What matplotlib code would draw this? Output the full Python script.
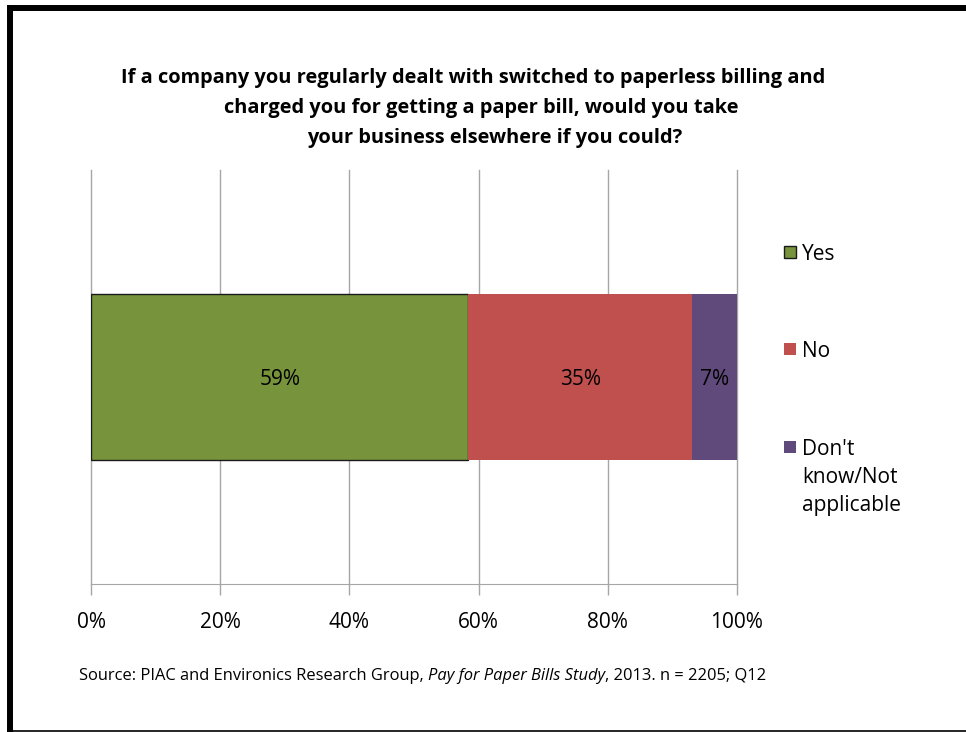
"""
Stacked 100% bar: would customers leave a company that charged for paper bills.
"""

import matplotlib.pyplot as plt
from matplotlib.lines import Line2D
from matplotlib.patches import Rectangle
from matplotlib.ticker import FuncFormatter

plt.rcParams['font.family'] = ['Open Sans', 'DejaVu Sans']

# Survey answers (percent of respondents)
categories = ["Yes", "No", "Don't\nknow/Not\napplicable"]
shares = [59, 35, 7]
colors = ['#77933C', '#C0504D', '#604A7B']
edges = ['#1a1a1a', 'none', 'none']

title_lines = [
    "If a company you regularly dealt with switched to paperless billing and",
    "charged you for getting a paper bill, would you take",
    "your business elsewhere if you could?",
]
source_parts = [
    ("Source: PIAC and Environics Research Group, ", 'normal'),
    ("Pay for Paper Bills Study", 'italic'),
    (", 2013. n = 2205; Q12", 'normal'),
]
xticks = [0, 20, 40, 60, 80, 100]

W, H = 966, 732
fig = plt.figure(figsize=(W / 100, H / 100), dpi=100)
ax = fig.add_axes([91 / W, 1 - 584 / H, 646 / W, 414 / H])

# Excel-style 100% stacking: normalise by the total of the rounded labels
total = sum(shares)
left = 0.0
for cat, val, col, ec in zip(categories, shares, colors, edges):
    width = val / total * 100
    ax.barh(0, width, left=left, height=0.4, color=col, edgecolor=ec,
            linewidth=1.0, zorder=3)
    ax.text(left + width / 2, -0.005, f"{val}%", ha='center', va='center',
            fontsize=15, color='black', zorder=4)
    left += width

ax.set_xlim(0, 100)
ax.set_ylim(-0.5, 0.5)
ax.set_xticks(xticks)
ax.xaxis.set_major_formatter(FuncFormatter(lambda v, _: f"{v:.0f}%"))
ax.set_yticks([])
ax.grid(axis='x', color='#A6A6A6', linewidth=1.0, zorder=0)
for gl in ax.get_xgridlines():
    gl.set_clip_on(False)
for side in ['top', 'right', 'left']:
    ax.spines[side].set_visible(False)
ax.spines['bottom'].set_color('#A6A6A6')
ax.tick_params(axis='x', length=8, width=1.0, color='#A6A6A6',
               labelsize=15, pad=12)

# Title, one line at a time
title_x = [473, 481, 495]
for i, (line, xc) in enumerate(zip(title_lines, title_x)):
    fig.text(xc / W, 1 - (78 + 30 * i) / H, line, ha='center', va='center',
             fontsize=14.4, fontweight='bold')

# Legend on the right, markers level with the first line of each label
legend_y = [252, 349, 447]
for cat, col, ec, yc in zip(categories, colors, edges, legend_y):
    fig.patches.append(Rectangle((784 / W, 1 - (yc + 6) / H), 12 / W, 12 / H,
                                 transform=fig.transFigure, facecolor=col,
                                 edgecolor=ec, linewidth=1.0))
    fig.text(802 / W, 1 - (yc - 8) / H, cat, ha='left', va='top',
             fontsize=15, linespacing=1.45)

# Source line with the study name in italics
fig.canvas.draw()
renderer = fig.canvas.get_renderer()
x = 79 / W
for text, style in source_parts:
    t = fig.text(x, 1 - 676 / H, text, ha='left', va='center', fontsize=11.9,
                 style=style)
    bb = t.get_window_extent(renderer)
    x += bb.width / W

# Frame lines
fig.add_artist(Line2D([7 / W, 1], [1 - 7.5 / H] * 2, color='black',
                      linewidth=4.3, solid_capstyle='butt',
                      transform=fig.transFigure))
fig.add_artist(Line2D([10 / W] * 2, [1 - 5 / H, 0], color='black',
                      linewidth=4.3, solid_capstyle='butt',
                      transform=fig.transFigure))
fig.add_artist(Line2D([7 / W, 1], [1.2 / H] * 2, color='black',
                      linewidth=1.2, solid_capstyle='butt',
                      transform=fig.transFigure))

fig.savefig('out.png', dpi=100)
